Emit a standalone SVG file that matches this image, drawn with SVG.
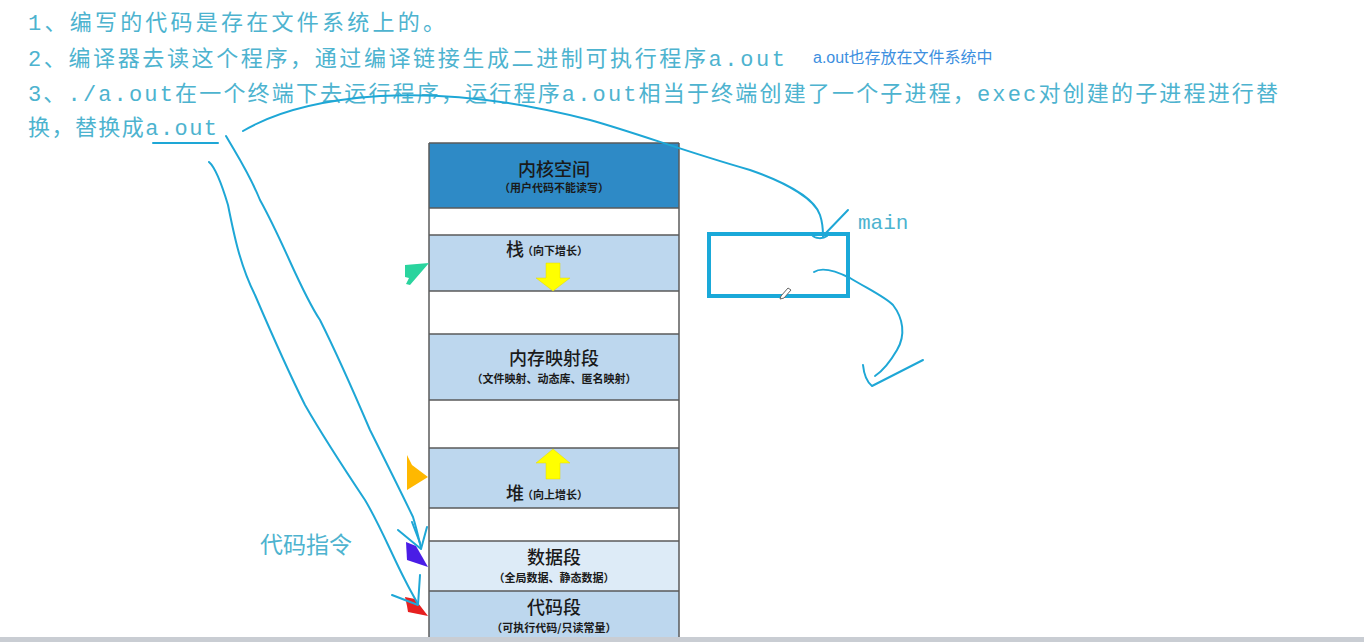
<svg xmlns="http://www.w3.org/2000/svg" width="1364" height="642" viewBox="0 0 1364 642">
<style>
.note{font-family:"Liberation Mono","Noto Sans CJK SC",monospace;font-size:22px;fill:#4db3cf}
.big{font-family:"Noto Sans CJK SC",sans-serif;font-size:18px;fill:#1a1a1a;text-anchor:middle;font-weight:500}
.small{font-family:"Noto Sans CJK SC",sans-serif;font-size:11px;fill:#1a1a1a;font-weight:700;text-anchor:middle}
.seg{stroke:#5a5a5a;stroke-width:1.5}
.ink{fill:none;stroke:#1ea7d6;stroke-width:2;stroke-linecap:round;stroke-linejoin:round}
.yel{fill:#ffff00;stroke:#e6d800;stroke-width:0.5}
</style>
<rect width="1364" height="642" fill="#ffffff"/>
<rect x="0" y="637" width="1364" height="5" fill="#c9cdd3"/>

<g id="notes">
<text class="note" x="28" y="30" textLength="417" lengthAdjust="spacing">1、编写的代码是存在文件系统上的。</text>
<text class="note" x="28" y="66" textLength="757" lengthAdjust="spacing">2、编译器去读这个程序，通过编译链接生成二进制可执行程序a.out</text>
<text x="813" y="63" font-family="'Liberation Sans','Noto Sans CJK SC',sans-serif" font-size="16" fill="#3d8fe0">a.out也存放在文件系统中</text>
<text class="note" x="28" y="101" textLength="1250" lengthAdjust="spacing">3、./a.out在一个终端下去运行程序，运行程序a.out相当于终端创建了一个子进程，exec对创建的子进程进行替</text>
<text class="note" x="28" y="135" textLength="189" lengthAdjust="spacing">换，替换成a.out</text>
</g>

<g id="memory">
<rect x="429" y="143" width="250" height="65" fill="#2e8ac6"/>
<rect x="429" y="208" width="250" height="27" fill="#ffffff"/>
<rect x="429" y="235" width="250" height="56" fill="#bdd7ee"/>
<rect x="429" y="291" width="250" height="43" fill="#ffffff"/>
<rect x="429" y="334" width="250" height="66" fill="#bdd7ee"/>
<rect x="429" y="400" width="250" height="48" fill="#ffffff"/>
<rect x="429" y="448" width="250" height="60" fill="#bdd7ee"/>
<rect x="429" y="508" width="250" height="33" fill="#ffffff"/>
<rect x="429" y="541" width="250" height="50" fill="#ddebf7"/>
<rect x="429" y="591" width="250" height="46" fill="#bdd7ee"/>
<g class="seg">
<line x1="429" y1="143" x2="679" y2="143"/>
<line x1="429" y1="208" x2="679" y2="208"/>
<line x1="429" y1="235" x2="679" y2="235"/>
<line x1="429" y1="291" x2="679" y2="291"/>
<line x1="429" y1="334" x2="679" y2="334"/>
<line x1="429" y1="400" x2="679" y2="400"/>
<line x1="429" y1="448" x2="679" y2="448"/>
<line x1="429" y1="508" x2="679" y2="508"/>
<line x1="429" y1="541" x2="679" y2="541"/>
<line x1="429" y1="591" x2="679" y2="591"/>
<line x1="429" y1="143" x2="429" y2="637"/>
<line x1="679" y1="143" x2="679" y2="637"/>
</g>
</g>

<g id="kernel">
<text class="big" x="554" y="176">内核空间</text>
<text class="small" x="554" y="192">（用户代码不能读写）</text>
</g>
<g id="stack">
<text class="big" x="515" y="256">栈</text>
<text class="small" x="555" y="255">（向下增长）</text>
<polygon class="yel" points="546,263 560,263 560,278 570,278 553,291 536,278 546,278"/>
</g>
<g id="mmap">
<text class="big" x="554" y="365">内存映射段</text>
<text class="small" x="554" y="383">（文件映射、动态库、匿名映射）</text>
</g>
<g id="heap">
<polygon class="yel" points="553,449 570,463 560,463 560,479 546,479 546,463 536,463"/>
<text class="big" x="515" y="500">堆</text>
<text class="small" x="555" y="499">（向上增长）</text>
</g>
<g id="data">
<text class="big" x="554" y="564">数据段</text>
<text class="small" x="554" y="582">（全局数据、静态数据）</text>
</g>
<g id="code">
<text class="big" x="554" y="614">代码段</text>
<text class="small" x="554" y="632">（可执行代码/只读常量）</text>
</g>

<g id="pointers">
<polygon points="405,265 429,263 410,285 406,284 409,278 405,277" fill="#2ad49e"/>
<polygon points="407,455 412,465 428,477 407,490 407,468" fill="#ffb800"/>
<polygon points="406,542 416,546 428,567 407,560" fill="#4a1de6"/>
<polygon points="405,597 415,599 428,616 408,612 407,606" fill="#e62020"/>
</g>

<g id="main-box">
<rect x="709" y="234" width="139" height="62" fill="none" stroke="#1aa9d9" stroke-width="4"/>
<text x="858" y="229" font-family="'Liberation Mono',monospace" font-size="21" fill="#4db3cf">main</text>
<path d="M781,296 L788,288 L791,290 L784,298 L780,299 Z" fill="#ffffff" stroke="#666" stroke-width="1"/>
</g>

<g id="label-code">
<text x="260" y="553" font-family="'Noto Sans CJK SC',sans-serif" font-size="23" fill="#4db3cf">代码指令</text>
</g>

<g id="connectors">
<path class="ink" d="M153,143 L218,143"/>
<path class="ink" d="M243,131 C275,112 320,100 380,96 C450,92 520,102 590,120 C640,134 680,150 750,170 C790,184 815,200 820,215 C823,224 823,230 823,236"/>
<path class="ink" d="M823,236 L848,210"/>
<path class="ink" d="M812,235 C815,239 823,239 827,236"/>
<path class="ink" d="M226,136 C240,160 250,175 260,200 C285,245 300,290 320,320 C340,360 355,395 370,430 C385,460 400,490 413,517 C417,530 419,540 421,548"/>
<path class="ink" d="M398,530 L421,549 L427,527"/>
<path class="ink" d="M412,522 L420,543"/>
<path class="ink" d="M209,162 C216,168 222,185 228,205 C234,235 240,265 255,295 C270,330 285,365 305,405 C325,440 345,470 365,500 C380,525 392,555 405,580 C410,590 414,597 418,604"/>
<path class="ink" d="M392,595 L418,605 L420,575"/>
<path class="ink" d="M814,272 C820,268 830,268 850,278 C870,290 885,297 893,305 C903,318 906,335 897,350 C890,362 884,370 875,376"/>
<path class="ink" d="M863,365 C864,375 867,382 872,386 L923,360"/>
</g>
</svg>
